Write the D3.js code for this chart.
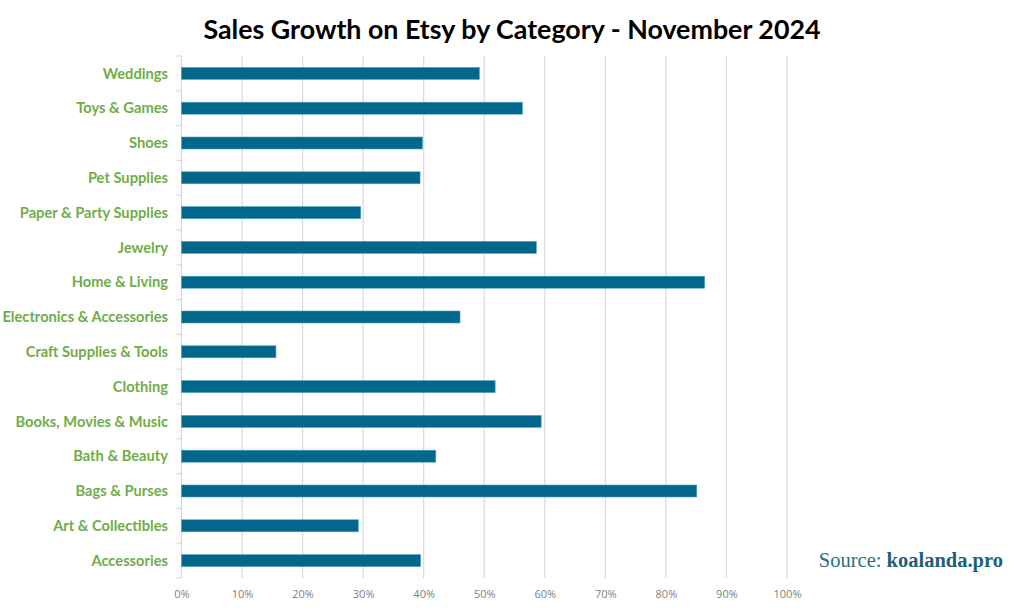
<!DOCTYPE html>
<html><head><meta charset="utf-8">
<script src="https://cdn.jsdelivr.net/npm/d3@7"></script>
<style>body{margin:0;background:#fff}svg{display:block}</style>
</head><body>
<svg id="c" width="1024" height="614"></svg>
<script>
const categories = ["Weddings","Toys & Games","Shoes","Pet Supplies","Paper & Party Supplies","Jewelry","Home & Living","Electronics & Accessories","Craft Supplies & Tools","Clothing","Books, Movies & Music","Bath & Beauty","Bags & Purses","Art & Collectibles","Accessories"];
const growth = [0.492,0.563,0.398,0.394,0.296,0.586,0.864,0.460,0.156,0.518,0.594,0.420,0.851,0.292,0.395];
const xTicks = [0,0.1,0.2,0.3,0.4,0.5,0.6,0.7,0.8,0.9,1.0];
const title = "Sales Growth on Etsy by Category - November 2024";

const svg = d3.select("#c");
const pLeft = 181.5, pRight = 787, pTop = 56, pBottom = 578;
const x = d3.scaleLinear().domain([0,1]).range([pLeft,pRight]);
const y = d3.scaleBand().domain(categories).range([pTop,pBottom]).paddingInner(0.655).paddingOuter(0.3275);

// gridlines
svg.append("g").selectAll("line").data(xTicks.slice(1)).join("line")
  .attr("x1",d=>x(d)).attr("x2",d=>x(d)).attr("y1",pTop).attr("y2",pBottom)
  .attr("stroke","#d9d9d9").attr("stroke-width",1.2);

// y axis line + ticks at category boundaries
const yAxisG = svg.append("g");
yAxisG.append("line").attr("x1",pLeft).attr("x2",pLeft).attr("y1",pTop).attr("y2",pBottom).attr("stroke","#d9d9d9").attr("stroke-width",1.2);
const step = y.step();
yAxisG.selectAll("line.t").data(d3.range(categories.length+1)).join("line").attr("class","t")
  .attr("x1",pLeft-5).attr("x2",pLeft).attr("y1",i=>pTop+i*step).attr("y2",i=>pTop+i*step)
  .attr("stroke","#d9d9d9").attr("stroke-width",1.2);

// bars
svg.append("g").selectAll("rect").data(categories).join("rect")
  .attr("x",x(0)).attr("y",d=>y(d)).attr("height",y.bandwidth())
  .attr("width",(d,i)=>x(growth[i])-x(0))
  .attr("fill","#03678b").attr("stroke","#4fa3c0").attr("stroke-width",0.6);

// category labels
svg.append("g").selectAll("text").data(categories).join("text")
  .attr("x",168).attr("y",d=>y(d)+y.bandwidth()/2).attr("dy","0.36em")
  .attr("text-anchor","end").attr("fill","#70ad47")
  .attr("font-family","Lato, 'Open Sans', sans-serif").attr("font-weight","bold").attr("font-size",14.7)
  .text(d=>d);

// x tick labels
const xAxis = d3.axisBottom(x).tickValues(xTicks).tickFormat(d3.format(".0%")).tickSize(0).tickPadding(0);
const xg = svg.append("g").attr("transform",`translate(0,${pBottom+12})`).call(xAxis);
xg.select(".domain").remove();
xg.selectAll("text").attr("fill","#808080").attr("font-family","'Open Sans', sans-serif").attr("font-size",11);

// title
svg.append("text").attr("x",512).attr("y",39).attr("text-anchor","middle")
  .attr("font-family","Lato, 'Open Sans', sans-serif").attr("font-weight","bold").attr("font-size",26.8).attr("fill","#000")
  .text(title);

// source
const src = svg.append("text").attr("x",1003).attr("y",567).attr("text-anchor","end")
  .attr("font-family","'Liberation Serif', 'DejaVu Serif', serif").attr("font-size",20.5).attr("fill","#2b6f86");
src.append("tspan").text("Source: ");
src.append("tspan").attr("font-weight","bold").attr("fill","#1f5f78").text("koalanda.pro");
</script>
</body></html>
